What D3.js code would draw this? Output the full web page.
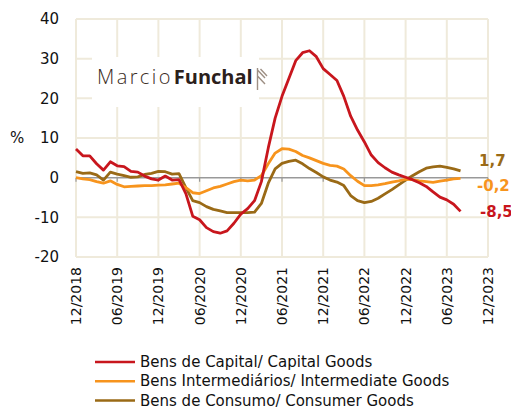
<!DOCTYPE html>
<html>
<head>
<meta charset="utf-8">
<script src="https://cdn.jsdelivr.net/npm/d3@7"></script>
<style>
  body { margin: 0; background: #fff; }
  svg { display: block; font-family: "DejaVu Sans", "Noto Sans", sans-serif; }
</style>
</head>
<body>
<div id="chart"></div>
<script>
// monthly series, 12/2018 .. 08/2023 (index 0 = 12/2018)
const capital = [7.2, 5.5, 5.5, 3.5, 1.9, 4.0, 3.0, 2.8, 1.6, 1.4, 0.4, -0.3,
  -0.6, 0.4, -0.6, -0.5, -4.0, -9.7, -10.6, -12.6, -13.6, -14.0, -13.4, -11.5,
  -9.2, -7.8, -5.8, -1.0, 7.5, 15.0, 20.5, 25.0, 29.5, 31.5, 32.0, 30.5,
  27.5, 26.0, 24.5, 20.5, 15.5, 12.0, 9.0, 5.7, 3.8, 2.5, 1.4, 0.7,
  0.1, -0.5, -1.3, -2.2, -3.6, -4.9, -5.6, -6.7, -8.5];
const intermediate = [0.0, -0.3, -0.5, -1.0, -1.4, -0.8, -1.7, -2.3, -2.2, -2.1, -2.0, -2.0,
  -1.9, -1.8, -1.6, -1.4, -2.5, -3.8, -4.0, -3.3, -2.6, -2.2, -1.6, -1.0,
  -0.6, -0.8, -0.6, 0.5, 3.5, 6.2, 7.3, 7.2, 6.6, 5.6, 5.0, 4.3,
  3.6, 3.1, 2.9, 2.2, 0.5, -0.9, -2.0, -2.0, -1.8, -1.5, -1.1, -0.8,
  -0.4, -0.5, -0.8, -1.0, -1.2, -0.9, -0.6, -0.3, -0.2];
const consumer = [1.5, 1.1, 1.2, 0.7, -0.6, 1.4, 0.9, 0.5, 0.1, 0.2, 0.8, 1.1,
  1.6, 1.5, 0.9, 1.0, -2.5, -5.8, -6.3, -7.3, -8.0, -8.4, -8.8, -8.8,
  -8.8, -8.8, -8.7, -6.5, -1.4, 2.2, 3.6, 4.1, 4.4, 3.5, 2.3, 1.3,
  0.2, -0.6, -1.1, -2.0, -4.5, -5.8, -6.3, -6.0, -5.2, -4.1, -3.0, -1.8,
  -0.6, 0.5, 1.5, 2.4, 2.7, 2.9, 2.6, 2.2, 1.7];

const xTickLabels = ["12/2018", "06/2019", "12/2019", "06/2020", "12/2020", "06/2021",
  "12/2021", "06/2022", "12/2022", "06/2023", "12/2023"];
const yTicks = [-20, -10, 0, 10, 20, 30, 40];

const seriesNames = ["Bens de Capital/ Capital Goods",
  "Bens Intermediários/ Intermediate Goods",
  "Bens de Consumo/ Consumer Goods"];
const lastLabels = ["-8,5", "-0,2", "1,7"];

const colors = ["#C8161D", "#F7941D", "#9A6A16"];
const series = [capital, intermediate, consumer];

const W = 511, H = 409;
const plot = { left: 76, right: 488, top: 19, bottom: 257 };

const svg = d3.select("#chart").append("svg")
  .attr("width", W).attr("height", H);

const x = d3.scaleLinear().domain([0, 60]).range([plot.left, plot.right]);
const y = d3.scaleLinear().domain([-20, 40]).range([plot.bottom, plot.top]);

const gridColor = "#EFEADB";

// grid
const grid = svg.append("g");
grid.selectAll(".hg")
  .data(yTicks.filter(d => d !== 0))
  .enter().append("line")
  .attr("x1", plot.left).attr("x2", plot.right)
  .attr("y1", d => y(d)).attr("y2", d => y(d))
  .attr("stroke", gridColor).attr("stroke-width", 2);
grid.selectAll(".vg")
  .data(xTickLabels.map((d, i) => i * 6))
  .enter().append("line")
  .attr("x1", d => x(d)).attr("x2", d => x(d))
  .attr("y1", plot.top).attr("y2", plot.bottom)
  .attr("stroke", gridColor).attr("stroke-width", 2);

// logo box
svg.append("rect")
  .attr("x", 92).attr("y", 57).attr("width", 167).attr("height", 50)
  .attr("fill", "#fff");
const logo = svg.append("text")
  .attr("x", 97).attr("y", 84)
  .attr("font-family", "'Open Sans', sans-serif")
  .attr("font-size", 20);
logo.append("tspan")
  .attr("font-weight", 300)
  .attr("letter-spacing", 2.4)
  .attr("fill", "#3b2c24")
  .text("Marcio");
logo.append("tspan")
  .attr("dx", 1)
  .attr("font-weight", 700)
  .attr("fill", "#2b201b")
  .text("Funchal");
svg.append("path")
  .attr("d", "M257.5,90 V68 M257.5,70 L265,78 M257.5,76 L265,84 M260.5,69 L267,76")
  .attr("fill", "none")
  .attr("stroke", "#9d8f84")
  .attr("stroke-width", 1.4);

// zero line with ticks
svg.append("line")
  .attr("x1", plot.left).attr("x2", plot.right)
  .attr("y1", y(0)).attr("y2", y(0))
  .attr("stroke", "#999").attr("stroke-width", 1.5);
svg.selectAll(".zt")
  .data(xTickLabels.map((d, i) => i * 6))
  .enter().append("line")
  .attr("x1", d => x(d)).attr("x2", d => x(d))
  .attr("y1", y(0)).attr("y2", y(0) + 4)
  .attr("stroke", "#999").attr("stroke-width", 1.2);

// y labels
svg.selectAll(".yl")
  .data(yTicks)
  .enter().append("text")
  .attr("x", 59).attr("y", d => y(d))
  .attr("dy", "0.36em")
  .attr("text-anchor", "end")
  .attr("font-size", 15)
  .attr("fill", "#111")
  .text(d => d);
svg.append("text")
  .attr("x", 10).attr("y", y(10))
  .attr("dy", "0.36em")
  .attr("font-size", 15)
  .attr("fill", "#111")
  .text("%");

// x labels (rotated)
svg.selectAll(".xl")
  .data(xTickLabels)
  .enter().append("text")
  .attr("transform", (d, i) => `translate(${x(i * 6)},${plot.bottom + 10}) rotate(-90)`)
  .attr("dy", "0.36em")
  .attr("text-anchor", "end")
  .attr("font-size", 14)
  .attr("fill", "#111")
  .text(d => d);

// lines
const line = d3.line()
  .x((d, i) => x(i))
  .y(d => y(d));

[2, 1, 0].forEach(k => {
  svg.append("path")
    .datum(series[k])
    .attr("fill", "none")
    .attr("stroke", colors[k])
    .attr("stroke-width", 2.8)
    .attr("stroke-linejoin", "round")
    .attr("d", line);
});

// end labels (clipped by the right edge, as in the original)
const endY = [y(-8.5), y(-0.2) + 7, y(1.7) - 10];
series.forEach((s, k) => {
  svg.append("text")
    .attr("x", k === 2 ? 479 : (k === 1 ? 477 : 480))
    .attr("y", endY[k])
    .attr("dy", "0.36em")
    .attr("font-size", 15)
    .attr("font-weight", 700)
    .attr("fill", colors[k])
    .text(lastLabels[k]);
});

// legend
const legend = svg.append("g");
seriesNames.forEach((name, k) => {
  const ly = 362 + k * 19.3;
  legend.append("line")
    .attr("x1", 95).attr("x2", 135)
    .attr("y1", ly).attr("y2", ly)
    .attr("stroke", colors[k]).attr("stroke-width", 2.5);
  legend.append("text")
    .attr("x", 140).attr("y", ly)
    .attr("dy", "0.33em")
    .attr("font-size", 15)
    .attr("fill", "#111")
    .text(name);
});
</script>
</body>
</html>
